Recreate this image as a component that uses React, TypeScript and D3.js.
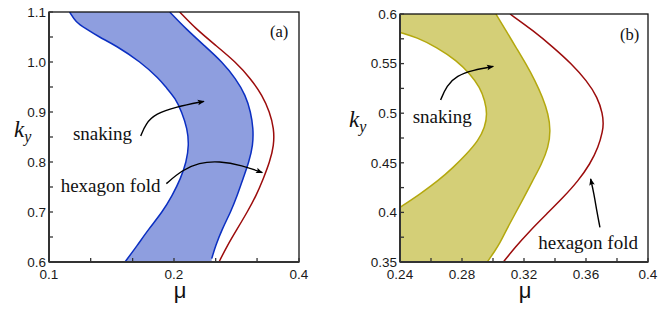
import React from 'react';
import * as d3 from 'd3';

type Pt = [number, number]; // [mu, ky]

// panel (a): snaking band edges and the hexagon fold
const aSnakeLeft: Pt[] = [
  [0.1121, 1.1], [0.1159, 1.08], [0.1226, 1.0667], [0.132, 1.05], [0.1447, 1.0333],
  [0.1663, 1.0], [0.184, 0.9667], [0.191, 0.95], [0.2019, 0.9267], [0.2087, 0.9],
  [0.2154, 0.8667], [0.2173, 0.8333], [0.2142, 0.8], [0.2075, 0.7667], [0.1982, 0.7333],
  [0.1875, 0.7], [0.1741, 0.6667], [0.1632, 0.6333], [0.1524, 0.6],
];
const aSnakeRight: Pt[] = [
  [0.1953, 1.1], [0.2134, 1.0667], [0.2362, 1.0333], [0.2615, 1.0], [0.2816, 0.9667],
  [0.2976, 0.9333], [0.306, 0.9], [0.3105, 0.8667], [0.3099, 0.8333], [0.3031, 0.8],
  [0.2932, 0.7667], [0.2842, 0.7333], [0.2739, 0.7], [0.2615, 0.6667], [0.252, 0.6333],
  [0.2465, 0.6067],
];
const aFold: Pt[] = [
  [0.2064, 1.1], [0.2255, 1.0667], [0.252, 1.0333], [0.2816, 1.0], [0.306, 0.9667],
  [0.3264, 0.9333], [0.34, 0.9], [0.3482, 0.8667], [0.3482, 0.8333], [0.34, 0.8],
  [0.3282, 0.7667], [0.3157, 0.7333], [0.3003, 0.7], [0.2842, 0.6667], [0.2689, 0.6333],
  [0.2567, 0.6],
];

// panel (b)
const bSnakeLeft: Pt[] = [
  [0.24, 0.5815], [0.2508, 0.5765], [0.2637, 0.5664], [0.2766, 0.553], [0.2852, 0.5395],
  [0.2916, 0.5261], [0.2948, 0.5126], [0.2963, 0.4992], [0.2948, 0.4858], [0.2905, 0.4723],
  [0.283, 0.4589], [0.2744, 0.4454], [0.2647, 0.432], [0.2529, 0.4185], [0.24, 0.4051],
];
const bSnakeRight: Pt[] = [
  [0.3019, 0.6], [0.3084, 0.5832], [0.3148, 0.5664], [0.3213, 0.5496], [0.3271, 0.5328],
  [0.332, 0.516], [0.3357, 0.4992], [0.3372, 0.4824], [0.3357, 0.4656], [0.3314, 0.4488],
  [0.3256, 0.432], [0.32, 0.4152], [0.3142, 0.3984], [0.3084, 0.3816], [0.3041, 0.3681],
  [0.3013, 0.3614], [0.2963, 0.35],
];
const bFold: Pt[] = [
  [0.311, 0.6], [0.326, 0.5832], [0.3389, 0.5664], [0.3508, 0.5496], [0.3604, 0.5328],
  [0.3675, 0.516], [0.3708, 0.4992], [0.3712, 0.4891], [0.3708, 0.4824], [0.368, 0.4656],
  [0.3626, 0.4488], [0.3551, 0.432], [0.3454, 0.4152], [0.3346, 0.3984], [0.3239, 0.3816],
  [0.3142, 0.3648], [0.3067, 0.35],
];

const aXTicks = [0.1, 0.2, 0.4];
const aXMinor = [0.126, 0.159, 0.252, 0.317];
const aYTicks = [0.6, 0.7, 0.8, 0.9, 1.0, 1.1];
const aYMinor = [0.65, 0.75, 0.85, 0.95, 1.05];
const bXTicks = [0.24, 0.28, 0.32, 0.36, 0.4];
const bXMinor = [0.26, 0.3, 0.34, 0.38];
const bYTicks = [0.35, 0.4, 0.45, 0.5, 0.55, 0.6];
const bYMinor = [0.375, 0.425, 0.475, 0.525, 0.575];

// annotations, in data units
const aLabels = [
  { text: 'snaking', at: [0.1142, 0.8433] as Pt },
  { text: 'hexagon fold', at: [0.1067, 0.74] as Pt },
];
const aArrows: Pt[][] = [
  [[0.1663, 0.852], [0.1709, 0.8767], [0.1807, 0.8967], [0.2019, 0.91], [0.2362, 0.9213]],
  [[0.1917, 0.7567], [0.2087, 0.7833], [0.2297, 0.7987], [0.2567, 0.802], [0.2921, 0.7933], [0.3264, 0.7787]],
];
const bLabels = [
  { text: 'snaking', at: [0.2482, 0.4898] as Pt },
  { text: 'hexagon fold', at: [0.3292, 0.3631] as Pt },
];
const bArrows: Pt[][] = [
  [[0.2662, 0.5133], [0.2701, 0.5278], [0.2766, 0.5378], [0.2873, 0.5435], [0.3002, 0.5472]],
  [[0.369, 0.3849], [0.3669, 0.4017], [0.3652, 0.4185], [0.363, 0.4337]],
];

const SANS = 'Liberation Sans, Arial, sans-serif';
const SERIF = 'Liberation Serif, Times New Roman, serif';
const BLUE = '#0b2fc2';
const BLUE_FILL = '#8e9edf';
const RED = '#9c0c0c';
const OLIVE = '#b4a80e';
const OLIVE_FILL = '#d4cf77';

type Scale = (v: number) => number;

const curveLine = (x: Scale, y: Scale) =>
  d3.line<Pt>().x(d => x(d[0])).y(d => y(d[1])).curve(d3.curveBasis);

function Panel(props: {
  id: string;
  x: Scale; y: Scale;
  x0: number; x1: number; y0: number; y1: number;
  xTicks: number[]; xMinor: number[]; yTicks: number[]; yMinor: number[];
  xFmt: (v: number) => string; yFmt: (v: number) => string;
  fillPath: string; fill: string;
  edges: Pt[][]; edgeColor: string; fold: Pt[];
  labels: { text: string; at: Pt }[]; arrows: Pt[][];
  tag: string; tagAt: Pt; yLabelX: number; yLabelY: number; muX: number;
}) {
  const { x, y, x0, x1, y0, y1 } = props;
  const line = curveLine(x, y);
  const arrowLine = d3.line<Pt>().x(d => x(d[0])).y(d => y(d[1])).curve(d3.curveBasis);
  return (
    <g>
      <defs>
        <clipPath id={`clip-${props.id}`}>
          <rect x={x0} y={y1} width={x1 - x0} height={y0 - y1} />
        </clipPath>
      </defs>
      <g clipPath={`url(#clip-${props.id})`}>
        <path d={props.fillPath} fill={props.fill} stroke="none" />
        {props.edges.map((e, i) => (
          <path key={i} d={line(e) || ''} fill="none" stroke={props.edgeColor} strokeWidth={1.5} />
        ))}
        <path d={line(props.fold) || ''} fill="none" stroke={RED} strokeWidth={1.5} />
      </g>
      <rect x={x0} y={y1} width={x1 - x0} height={y0 - y1} fill="none" stroke="#111" strokeWidth={1.3} />
      <line x1={x0} x2={x0} y1={y1} y2={y0} stroke="#333" strokeWidth={2} />
      <line x1={x0} x2={x1} y1={y0} y2={y0} stroke="#333" strokeWidth={2} />
      {props.yTicks.concat(props.yMinor).map((t, i) => (
        <line key={'yt' + i} x1={x0} x2={x0 + 4} y1={y(t)} y2={y(t)} stroke="#333" strokeWidth={1.3} />
      ))}
      {props.xTicks.concat(props.xMinor).map((t, i) => (
        <line key={'xt' + i} x1={x(t)} x2={x(t)} y1={y0} y2={y0 - 4} stroke="#333" strokeWidth={1.3} />
      ))}
      {props.yTicks.map((t, i) => (
        <text key={'yl' + i} x={x0 - 3} y={y(t)} dy="0.35em" textAnchor="end"
          fontFamily={SANS} fontSize={13.5} fill="#1a1a1a">{props.yFmt(t)}</text>
      ))}
      {props.xTicks.map((t, i) => (
        <text key={'xl' + i} x={x(t)} y={y0 + 17} textAnchor="middle"
          fontFamily={SANS} fontSize={13.5} fill="#1a1a1a">{props.xFmt(t)}</text>
      ))}
      <text x={props.muX} y={y0 + 36} textAnchor="middle" fontFamily={SANS} fontSize={22} fill="#111">μ</text>
      <text x={props.yLabelX} y={props.yLabelY} fontFamily={SERIF} fontSize={23} fill="#111">
        <tspan fontStyle="italic">k</tspan>
        <tspan fontStyle="italic" fontSize={16} dy={5}>y</tspan>
      </text>
      <text x={x(props.tagAt[0])} y={y(props.tagAt[1])} textAnchor="end" fontFamily={SERIF} fontSize={16.5} fill="#111">{props.tag}</text>
      {props.labels.map((l, i) => (
        <text key={'lb' + i} x={x(l.at[0])} y={y(l.at[1])} fontFamily={SERIF} fontSize={19} fill="#111">{l.text}</text>
      ))}
      {props.arrows.map((a, i) => (
        <path key={'ar' + i} d={arrowLine(a) || ''} fill="none" stroke="#000" strokeWidth={1.4}
          markerEnd="url(#arrowhead)" />
      ))}
    </g>
  );
}

export default function App() {
  const ax = d3.scaleLog().domain([0.1, 0.4]).range([49, 299]);
  const ay = d3.scaleLinear().domain([0.6, 1.1]).range([262, 12]);
  const bx = d3.scaleLinear().domain([0.24, 0.4]).range([400, 648]);
  const by = d3.scaleLinear().domain([0.35, 0.6]).range([262, 14]);

  const aLine = curveLine(ax, ay);
  const bLine = curveLine(bx, by);

  // (a) band: left edge down, along the bottom, right edge back up
  const aRightEnd = aSnakeRight[aSnakeRight.length - 1];
  const aFill =
    (aLine(aSnakeLeft) || '') +
    'L' + ax(aRightEnd[0]) + ',' + ay(0.6) +
    (aLine(aSnakeRight.slice().reverse()) || '').replace(/^M/, 'L') + 'Z';

  // (b) band: top-left corner, right edge down, bottom-left corner, left edge back up
  const bFill =
    'M' + bx(0.24) + ',' + by(0.6) +
    (bLine(bSnakeRight) || '').replace(/^M/, 'L') +
    'L' + bx(0.24) + ',' + by(0.35) +
    (bLine(bSnakeLeft.slice().reverse()) || '').replace(/^M/, 'L') + 'Z';

  return (
    <svg width={664} height={310} style={{ position: 'absolute', left: 0, top: 0, background: '#fff' }}>
      <defs>
        <marker id="arrowhead" viewBox="0 0 10 10" refX="9" refY="5" markerWidth="8" markerHeight="7"
          orient="auto" markerUnits="userSpaceOnUse">
          <path d="M0,1 L10,5 L0,9 L2,5 Z" fill="#000" />
        </marker>
      </defs>
      <rect width={664} height={310} fill="#fff" />
      <Panel id="a" x={ax} y={ay} x0={49} x1={299} y0={262} y1={12}
        xTicks={aXTicks} xMinor={aXMinor} yTicks={aYTicks} yMinor={aYMinor}
        xFmt={d3.format('.1f')} yFmt={d3.format('.1f')}
        fillPath={aFill} fill={BLUE_FILL} edges={[aSnakeLeft, aSnakeRight]} edgeColor={BLUE}
        fold={aFold} labels={aLabels} arrows={aArrows}
        tag="(a)" tagAt={[0.377, 1.05]} yLabelX={14} yLabelY={137} muX={180} />
      <Panel id="b" x={bx} y={by} x0={400} x1={648} y0={262} y1={14}
        xTicks={bXTicks} xMinor={bXMinor} yTicks={bYTicks} yMinor={bYMinor}
        xFmt={d => String(+d.toFixed(2))} yFmt={d => String(+d.toFixed(2))}
        fillPath={bFill} fill={OLIVE_FILL} edges={[bSnakeLeft, bSnakeRight]} edgeColor={OLIVE}
        fold={bFold} labels={bLabels} arrows={bArrows}
        tag="(b)" tagAt={[0.3944, 0.5738]} yLabelX={349} yLabelY={127} muX={525} />
    </svg>
  );
}
